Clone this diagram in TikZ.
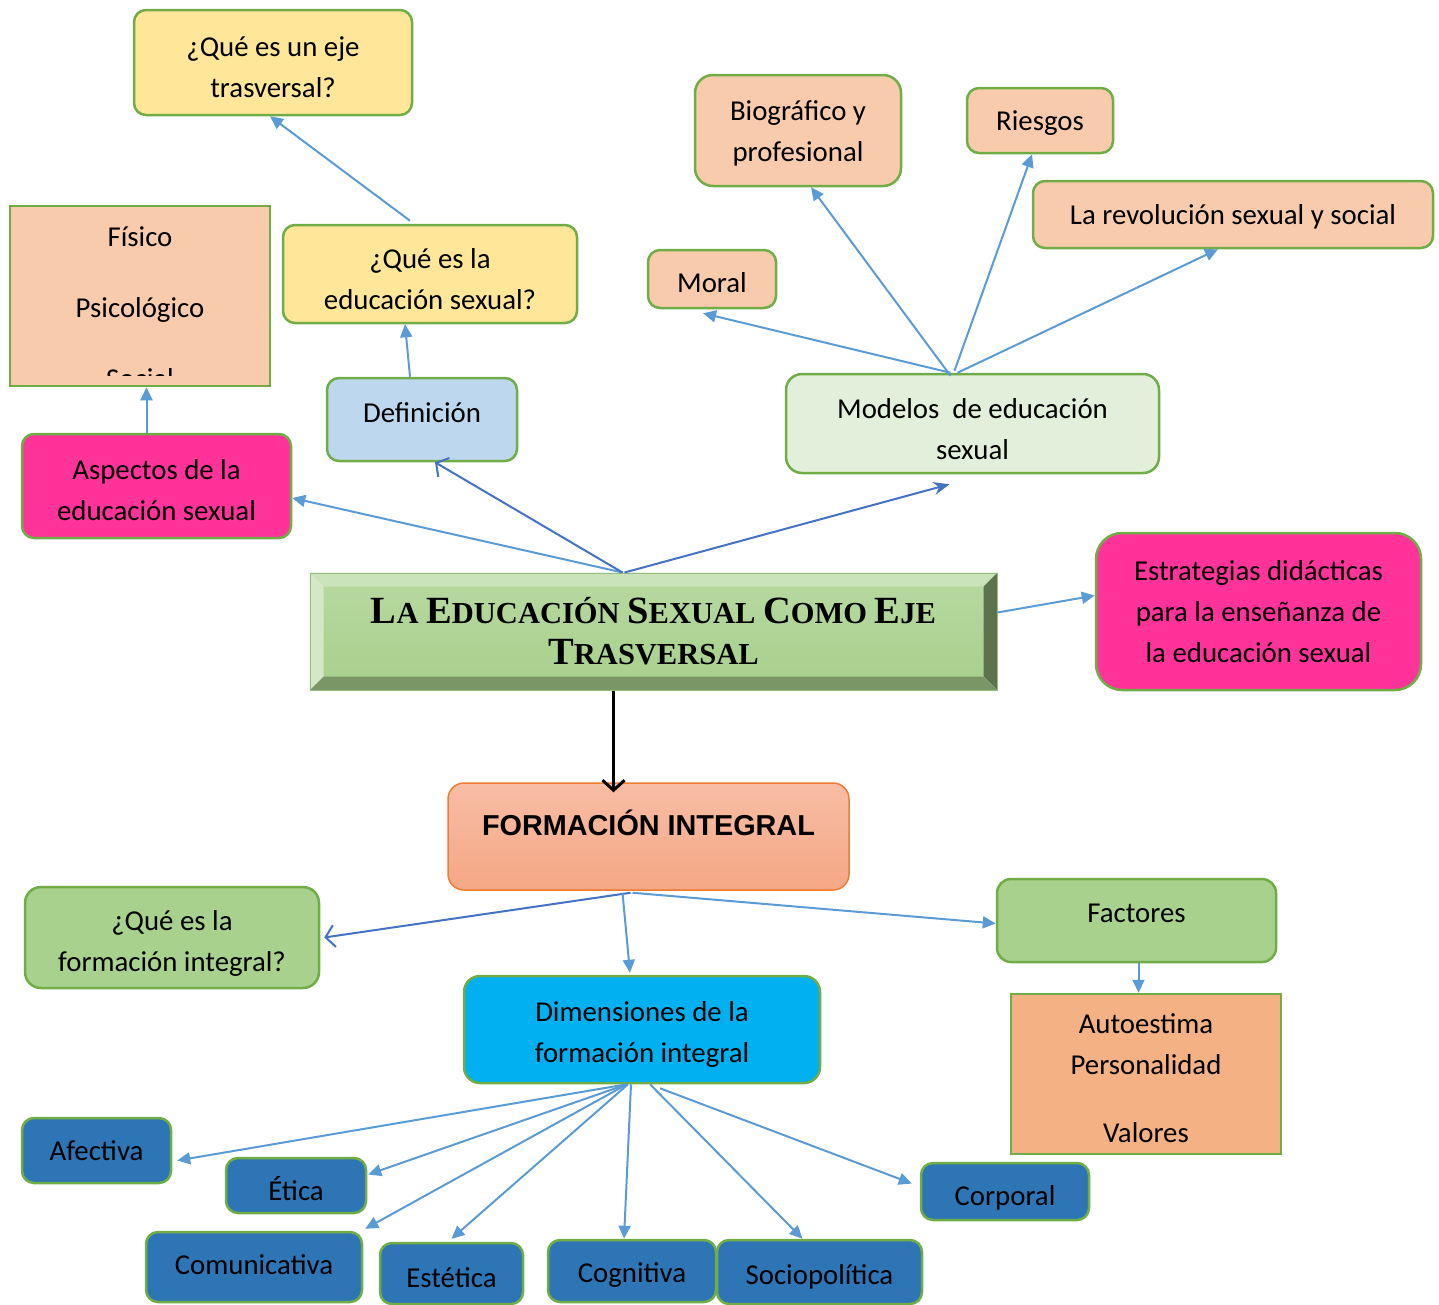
\documentclass[tikz,border=0pt]{standalone}
\usepackage{fontspec}
\setmainfont{Carlito}
\newfontfamily\arialfont{Liberation Sans}
\newfontfamily\titlefont{Liberation Serif}
\usepackage{tikz}
\usetikzlibrary{arrows.meta}
\usetikzlibrary{backgrounds}

\definecolor{bgreen}{HTML}{70AD47}
\definecolor{yel}{HTML}{FFE699}
\definecolor{peach}{HTML}{F8CBAD}
\definecolor{sky}{HTML}{BDD7EE}
\definecolor{hpink}{HTML}{FF3399}
\definecolor{pale}{HTML}{E2EFDA}
\definecolor{mgreen}{HTML}{A9D18E}
\definecolor{orng}{HTML}{F4B183}
\definecolor{cyan}{HTML}{00B0F0}
\definecolor{steel}{HTML}{2E75B6}
\definecolor{lblue}{HTML}{5B9BD5}
\definecolor{dblue}{HTML}{4472C4}
\definecolor{fitop}{HTML}{F8BDA5}
\definecolor{fibot}{HTML}{F4A784}
\definecolor{fiedge}{HTML}{ED7D31}

\newcommand\boxfont{\fontsize{28.8}{41}\selectfont}
\newcommand\bigini[2]{{\fontsize{38.5}{41}\selectfont #1}#2}
\newcommand\tpad[1]{\rule{0pt}{#1pt}}

\tikzset{
  box/.style={draw=bgreen, line width=2.5pt, rounded corners=12pt, align=center, font=\boxfont, inner sep=0pt},
  sq/.style={draw=bgreen, line width=2.5pt, align=center, font=\boxfont, inner sep=0pt},
  sz/.style 2 args={minimum width=#1pt, minimum height=#2pt},
  pad/.style={execute at begin node=\tpad{#1}},
  arr/.style={draw=lblue, line width=2pt, -{Triangle[length=13pt,width=12pt]}},
  opn/.style={draw=dblue, line width=2pt, -{Straight Barb[length=9pt,width=22pt]}},
}

\begin{document}
\begin{tikzpicture}[x=1pt,y=-1pt]
\useasboundingbox (0,0) rectangle (1439,1304);

\node[box, fill=yel, sz={278}{105}] (q1) at (273,62.5) {\tpad{29}¿Qué es un eje\\trasversal?};
\node[sq, fill=peach, sz={260}{180}] (fis) at (140,296) {};
\begin{scope}
\clip ([yshift=12pt]fis.south west) rectangle (fis.north east);
\node[align=center, font=\fontsize{28.8}{71}\selectfont] (fist) at (140,308) {Físico\\Psicológico\\Social};
\end{scope}
\node[box, fill=yel, sz={294}{98}] (q2) at (430,274) {\tpad{31}¿Qué es la\\educación sexual?};
\node[box, fill=sky, sz={190}{83}, text depth=25pt, pad=31] (def) at (422,419.5) {Definición};
\node[box, fill=hpink, sz={269}{104}] (asp) at (156.5,486) {\tpad{29}Aspectos de la\\educación sexual};

\node[box, fill=peach, sz={206}{111}, rounded corners=18pt] (bio) at (798,130.5) {\tpad{25}Biográfico y\\profesional};
\node[box, fill=peach, sz={146}{65}, pad=24] (rie) at (1040,120.5) {Riesgos};
\node[box, fill=peach, sz={400}{67}, pad=25] (rev) at (1233,214.5) {La revolución sexual y social};
\node[box, fill=peach, sz={128}{58}, pad=28] (mor) at (712,279) {Moral};
\node[box, fill=pale, sz={373}{99}, rounded corners=16pt] (mod) at (972.5,423.5) {\tpad{32}Modelos\ \ de educación\\sexual};

\node[align=center, sz={687}{117}, inner sep=0pt, draw=mgreen!90!black, line width=1pt,
  font=\titlefont\bfseries\fontsize{30.5}{41}\selectfont] (tt) at (653.5,631.5)
  {\bigini{L}{A} \bigini{E}{DUCACIÓN} \bigini{S}{EXUAL} \bigini{C}{OMO} \bigini{E}{JE}\\\bigini{T}{RASVERSAL}};
\begin{scope}[on background layer]
\shade[top color=mgreen!85!white, bottom color=mgreen] ([xshift=14pt,yshift=-14pt]tt.north west) rectangle ([xshift=-14pt,yshift=14pt]tt.south east);
\fill[mgreen!60!white] (tt.north west) -- (tt.north east) -- ([xshift=-14pt,yshift=-14pt]tt.north east) -- ([xshift=14pt,yshift=-14pt]tt.north west) -- cycle;
\fill[mgreen!50!white] (tt.north west) -- ([xshift=14pt,yshift=-14pt]tt.north west) -- ([xshift=14pt,yshift=14pt]tt.south west) -- (tt.south west) -- cycle;
\fill[mgreen!55!black] (tt.north east) -- (tt.south east) -- ([xshift=-14pt,yshift=14pt]tt.south east) -- ([xshift=-14pt,yshift=-14pt]tt.north east) -- cycle;
\fill[mgreen!72!black] (tt.south west) -- (tt.south east) -- ([xshift=-14pt,yshift=14pt]tt.south east) -- ([xshift=14pt,yshift=14pt]tt.south west) -- cycle;
\end{scope}

\node[box, fill=hpink, sz={325}{157}, rounded corners=26pt] (est) at (1258.5,611.5) {Estrategias didácticas\\para la enseñanza de\\la educación sexual};

\node[box, draw=fiedge, line width=1.5pt, top color=fitop, bottom color=fibot, sz={401}{107}, rounded corners=16pt,
  font=\arialfont\bfseries\fontsize{28.8}{41}\selectfont, text depth=34pt, pad=31] (fi) at (648.5,836.5) {FORMACIÓN INTEGRAL};
\node[box, fill=mgreen, sz={294}{101}, rounded corners=16pt] (q3) at (172,937.5) {\tpad{32}¿Qué es la\\formación integral?};
\node[box, fill=mgreen, sz={279}{83}, rounded corners=14pt, text depth=26pt, pad=29] (fac) at (1136.5,920.5) {Factores};
\node[sq, fill=orng, sz={270}{160}] (val) at (1146,1074) {\tpad{29}Autoestima\\Personalidad\\[27pt]Valores};
\node[box, fill=cyan, sz={356}{107}, rounded corners=16pt] (dim) at (642,1029.5) {\tpad{29}Dimensiones de la\\formación integral};

\node[box, fill=steel, sz={149}{65}] (afe) at (96.5,1150.5) {Afectiva};
\node[box, fill=steel, sz={140}{55}, pad=31] (eti) at (296,1185.5) {Ética};
\node[box, fill=steel, sz={216}{70}, text depth=4pt] (com) at (254,1267) {Comunicativa};
\node[box, fill=steel, sz={143}{61}, pad=28] (ste) at (451.5,1273.5) {Estética};
\node[box, fill=steel, sz={168}{62}, pad=28] (cog) at (632,1271) {Cognitiva};
\node[box, fill=steel, sz={205}{64}, pad=29] (soc) at (819.5,1272) {Sociopolítica};
\node[box, fill=steel, sz={168}{57}, pad=32] (cor) at (1005,1191.5) {Corporal};

\draw[arr] ([xshift=-31pt]tt.north) -- ([yshift=-12pt]asp.east);
\draw[opn] ([xshift=-31pt]tt.north) -- ([xshift=13pt]def.south);
\draw[draw=dblue, line width=2pt, -{Stealth[length=16pt,width=13pt]}] ([xshift=-29pt]tt.north) -- ([xshift=-23pt,yshift=-10pt]mod.south);
\draw[arr] ([yshift=19pt]tt.east) -- ([yshift=16pt]est.west);
\draw[line width=3pt, -{Straight Barb[length=10pt,width=22pt,line width=3pt]}] ([xshift=-40pt]tt.south) -- ([xshift=-35pt,yshift=-10pt]fi.north);

\draw[arr] ([xshift=-10pt]asp.north) -- ([xshift=-10pt]asp.north |- fis.south);
\draw[arr] ([xshift=-12pt]def.north) -- ([xshift=-25pt]q2.south);
\draw[arr] ([xshift=-20pt,yshift=3pt]q2.north) -- ([xshift=-3pt]q1.south);

\draw[arr] ([xshift=-22pt]mod.north) -- ([xshift=-9pt,yshift=-4pt]mor.south);
\draw[arr] ([xshift=-22pt,yshift=-3pt]mod.north) -- ([xshift=13pt]bio.south);
\draw[arr] ([xshift=-18pt,yshift=2pt]mod.north) -- ([xshift=-8pt]rie.south);
\draw[arr] ([xshift=-15pt]mod.north) -- ([xshift=-15pt]rev.south);

\draw[opn] ([xshift=-18pt,yshift=-2pt]fi.south) -- ([xshift=4pt]q3.east);
\draw[arr] ([xshift=-26pt,yshift=-2pt]fi.south) -- ([xshift=-12pt,yshift=2pt]dim.north);
\draw[arr] ([xshift=-16pt,yshift=-2pt]fi.south) -- ([yshift=-3pt]fac.west);
\draw[arr] ([xshift=2pt]fac.south) -- ([xshift=2pt]fac.south |- val.north);

\draw[arr] ([xshift=-15pt]dim.south) -- ([xshift=5pt,yshift=-10pt]afe.east);
\draw[arr] ([xshift=-15pt]dim.south) -- ([xshift=1pt,yshift=11pt]eti.east);
\draw[arr] ([xshift=-15pt]dim.south) -- ([xshift=2pt,yshift=2pt]com.north east);
\draw[arr] ([xshift=-14pt]dim.south) -- ([yshift=3pt]ste.north);
\draw[arr] ([xshift=-11pt]dim.south) -- ([xshift=-8pt]cog.north);
\draw[arr] ([xshift=8pt]dim.south) -- ([xshift=-17pt]soc.north);
\draw[arr] ([xshift=18pt,yshift=-4pt]dim.south) -- ([xshift=-8pt,yshift=8pt]cor.west);
\end{tikzpicture}
\end{document}
